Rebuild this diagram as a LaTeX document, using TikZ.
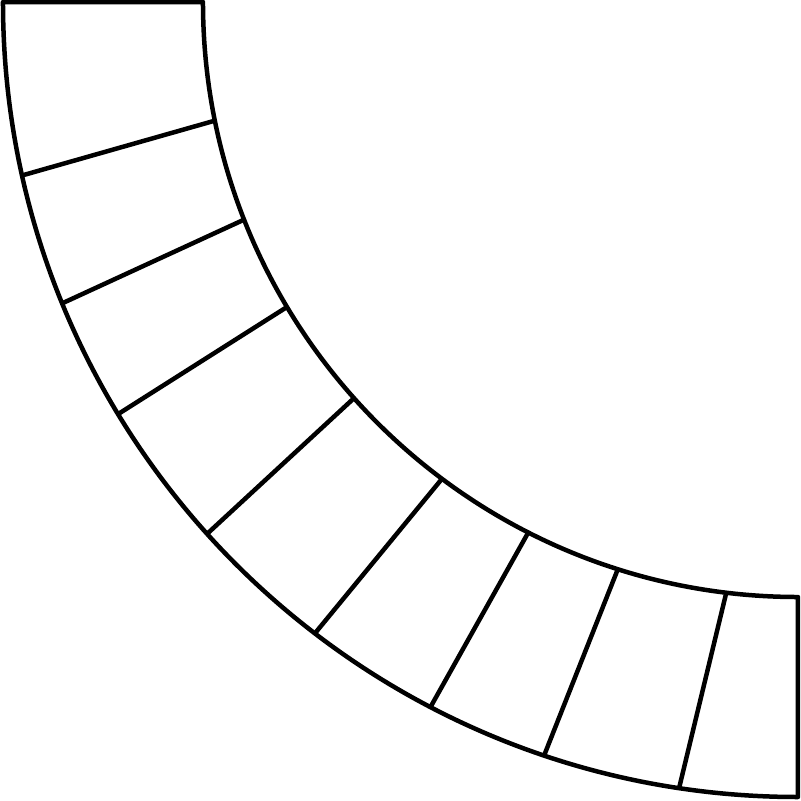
\documentclass[tikz,border=0pt]{standalone}
\begin{document}
\begin{tikzpicture}[line width=0.045cm,line join=round]
  \useasboundingbox (-7.98,-7.99) rectangle (0.03,0.02);
  % quarter ring
  \draw (180:5.95) -- (180:7.95) arc[start angle=180,end angle=270,radius=7.95]
    -- (270:5.95) arc[start angle=270,end angle=180,radius=5.95] -- cycle;
  % dividers (inner angle / outer angle below the horizontal)
  \foreach \a/\b in {11.5/12.6,21.45/22.27,30.83/31.22,41.74/41.99,53.25/52.58,63.05/62.47,72.38/71.38,83.08/81.4}
    \draw ({180+\a}:5.95) -- ({180+\b}:7.95);
\end{tikzpicture}
\end{document}
